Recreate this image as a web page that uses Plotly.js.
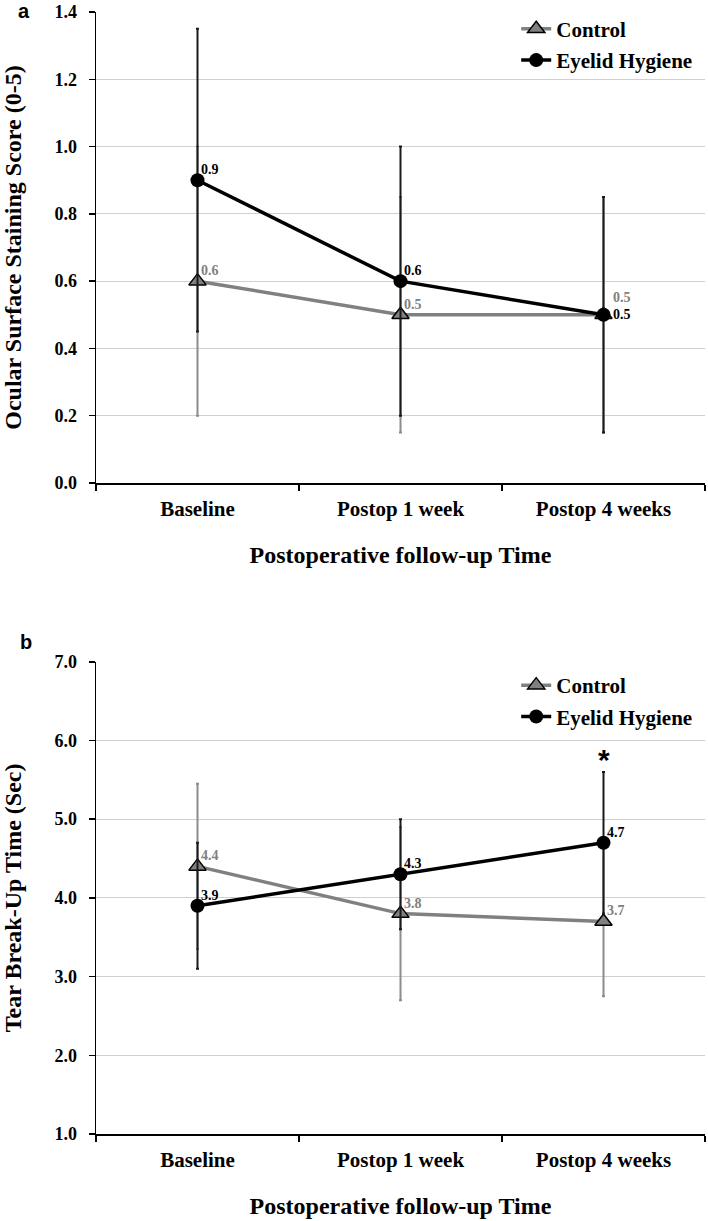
<!DOCTYPE html>
<html><head><meta charset="utf-8">
<script src="https://cdn.plot.ly/plotly-3.0.1.min.js"></script>
<style>html,body{margin:0;padding:0;background:#fff}#chart{width:708px;height:1221px}</style>
</head><body><div id="chart"></div>
<script>
// ---- data ----
const categories = ['Baseline', 'Postop 1 week', 'Postop 4 weeks'];
const seriesNames = ['Control', 'Eyelid Hygiene'];
const stainingControl = [0.6, 0.5, 0.5];
const stainingControlSD = [0.4, 0.35, 0.35];
const stainingEyelid = [0.9, 0.6, 0.5];
const stainingEyelidSD = [0.45, 0.4, 0.35];
const tbutControl = [4.4, 3.8, 3.7];
const tbutControlSD = [1.05, 1.1, 0.95];
const tbutEyelid = [3.9, 4.3, 4.7];
const tbutEyelidSD = [0.8, 0.7, 0.9];
const stainingTicks = [0, 0.2, 0.4, 0.6, 0.8, 1.0, 1.2, 1.4];
const tbutTicks = [1, 2, 3, 4, 5, 6, 7];
const significantCategory = 'Postop 4 weeks';

// ---- style ----
const SERIF = 'Liberation Serif, Times New Roman, serif';
const SANS = 'Liberation Sans, Arial, sans-serif';
const GREY = '#808080';
const BLACK = '#000000';
const fmt = v => v.toFixed(1);

function controlTrace(y, sd, xa, ya, legend) {
  return {
    type: 'scatter', mode: 'lines+markers', name: seriesNames[0],
    x: categories, y: y, xaxis: xa, yaxis: ya, legend: legend, legendgroup: 'c' + legend,
    line: {color: GREY, width: 3.5},
    marker: {symbol: 'triangle-up', size: 15, color: GREY, line: {color: BLACK, width: 1.5}},
    error_y: {type: 'data', array: sd, visible: true, color: '#8c8c8c', thickness: 2, width: 1.5},
    cliponaxis: false, hoverinfo: 'x+y'
  };
}
function eyelidTrace(y, sd, xa, ya, legend) {
  return {
    type: 'scatter', mode: 'lines+markers', name: seriesNames[1],
    x: categories, y: y, xaxis: xa, yaxis: ya, legend: legend, legendgroup: 'e' + legend,
    line: {color: BLACK, width: 3.5},
    marker: {symbol: 'circle', size: 14, color: BLACK},
    error_y: {type: 'data', array: sd, visible: true, color: '#1a1a1a', thickness: 2, width: 1.5},
    cliponaxis: false, hoverinfo: 'x+y'
  };
}

const data = [
  controlTrace(stainingControl, stainingControlSD, 'x', 'y', 'legend'),
  eyelidTrace(stainingEyelid, stainingEyelidSD, 'x', 'y', 'legend'),
  controlTrace(tbutControl, tbutControlSD, 'x2', 'y2', 'legend2'),
  eyelidTrace(tbutEyelid, tbutEyelidSD, 'x2', 'y2', 'legend2')
];

// label placement styles: 'top' = above-right, 'high' = further above-right, 'mid' = right
const placement = {
  top:  {yanchor: 'bottom', xshift: 1, yshift: 1},
  high: {yanchor: 'bottom', xshift: 7, yshift: 8},
  mid:  {yanchor: 'middle', xshift: 7, yshift: 0}
};

// value labels as annotations placed at the data points
function valueLabels(values, xref, yref, color, places) {
  return values.map((v, i) => {
    const p = placement[places[i]];
    return {
      text: fmt(v), xref: xref, yref: yref, x: categories[i], y: v,
      xanchor: 'left', yanchor: p.yanchor, xshift: p.xshift, yshift: p.yshift,
      showarrow: false, font: {family: SERIF, size: 14, color: color, weight: 'bold'}
    };
  });
}

const tickFont = {family: SERIF, size: 18, color: BLACK, weight: 'bold'};
const catFont = {family: SERIF, size: 21, color: BLACK, weight: 'bold'};
const titleFont = {family: SERIF, size: 24, color: BLACK, weight: 'bold'};

function xAxis(anchor) {
  return {
    anchor: anchor, domain: [0, 1], type: 'category', range: [-0.5, 2.5],
    showline: true, linecolor: BLACK, linewidth: 1.5, mirror: false,
    ticks: 'outside', tickson: 'boundaries', ticklen: 6, tickcolor: BLACK, tickwidth: 1.5,
    showgrid: false, zeroline: false, tickfont: catFont, ticklabelstandoff: 6,
    title: {text: 'Postoperative follow-up Time', font: titleFont, standoff: 26},
    automargin: false, fixedrange: true
  };
}
function yAxis(anchor, domain, ticks, range, title) {
  return {
    anchor: anchor, domain: domain, range: range, tickvals: ticks, tickformat: '.1f',
    showline: true, linecolor: BLACK, linewidth: 1.5, ticks: 'outside', ticklen: 6,
    tickcolor: BLACK, tickwidth: 1.5,
    showgrid: true, gridcolor: '#d0d0d0', gridwidth: 1, zeroline: false,
    tickfont: tickFont, ticklabelstandoff: 8,
    title: {text: title, font: titleFont, standoff: 27},
    automargin: false, fixedrange: true
  };
}

const legendBase = {
  x: 0.69, xanchor: 'left', yanchor: 'top', bgcolor: 'rgba(0,0,0,0)',
  font: {family: SERIF, size: 21, color: BLACK, weight: 'bold'},
  traceorder: 'grouped', tracegroupgap: 1, itemwidth: 30
};

const annotations = [].concat(
  valueLabels(stainingControl, 'x', 'y', GREY, ['top', 'top', 'high']),
  valueLabels(stainingEyelid, 'x', 'y', BLACK, ['top', 'top', 'mid']),
  valueLabels(tbutControl, 'x2', 'y2', GREY, ['top', 'top', 'top']),
  valueLabels(tbutEyelid, 'x2', 'y2', BLACK, ['top', 'top', 'top']),
  [
    {text: 'a', xref: 'paper', yref: 'paper', x: -0.118, y: 1.0009, xanchor: 'center', yanchor: 'middle',
     showarrow: false, font: {family: SANS, size: 20, color: BLACK, weight: 'bold'}},
    {text: 'b', xref: 'paper', yref: 'paper', x: -0.115, y: 0.4385, xanchor: 'center', yanchor: 'middle',
     showarrow: false, font: {family: SANS, size: 20, color: BLACK, weight: 'bold'}},
    {text: '*', xref: 'x2', yref: 'y2', x: significantCategory,
     y: tbutEyelid[2] + tbutEyelidSD[2], yshift: 12, yanchor: 'middle',
     showarrow: false, font: {family: SANS, size: 30, color: BLACK, weight: 'bold'}}
  ]
);

const layout = {
  width: 708, height: 1221,
  margin: {l: 96, r: 3, t: 12, b: 87},
  paper_bgcolor: '#ffffff', plot_bgcolor: '#ffffff',
  showlegend: true,
  xaxis: xAxis('y'),
  yaxis: yAxis('x', [0.5802, 1], stainingTicks, [0, 1.4], 'Ocular Surface Staining Score (0-5)'),
  xaxis2: xAxis('y2'),
  yaxis2: yAxis('x2', [0, 0.4209], tbutTicks, [1, 7], 'Tear Break-Up Time (Sec)'),
  legend: Object.assign({}, legendBase, {y: 1.003}),
  legend2: Object.assign({}, legendBase, {y: 0.418}),
  annotations: annotations
};

Plotly.newPlot('chart', data, layout, {displayModeBar: false, staticPlot: true});
</script>
</body></html>
